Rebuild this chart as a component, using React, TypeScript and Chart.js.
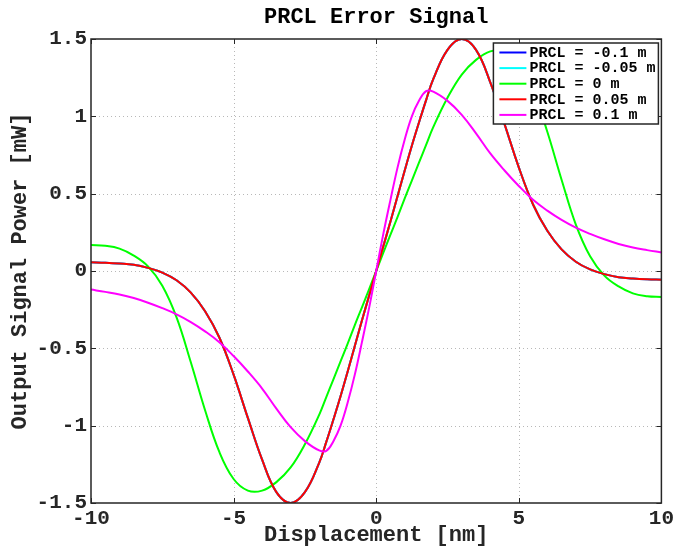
import { useEffect, useRef } from "react";
import { Chart, registerables } from "chart.js";

Chart.register(...registerables);

// ---- data ----
const displacementNm = [
  -10, -9.5, -9, -8.5, -8, -7.5, -7, -6.5, -6, -5.5, -5, -4.5, -4, -3.5, -3, -2.5,
  -2, -1.75, -1.5, -1.25, -1, -0.75, -0.5, -0.25, 0, 0.25, 0.5, 0.75, 1, 1.25, 1.5, 1.75, 2,
  2.5, 3, 3.5, 4, 4.5, 5, 5.5, 6, 6.5, 7, 7.5, 8, 8.5, 9, 9.5, 10,
];

const powerPrclPos005 = [
  0.056, 0.053, 0.048, 0.04, 0.02, -0.01, -0.06, -0.14, -0.26, -0.43, -0.67, -0.95, -1.22, -1.43, -1.5, -1.43,
  -1.24, -1.105, -0.96, -0.81, -0.65, -0.485, -0.32, -0.16, 0, 0.16, 0.32, 0.485, 0.65, 0.81, 0.96, 1.105, 1.24,
  1.43, 1.5, 1.43, 1.22, 0.95, 0.67, 0.43, 0.26, 0.14, 0.06, 0.01, -0.02, -0.04, -0.048, -0.053, -0.056,
];

const powerPrclNeg010 = [
  0.056, 0.053, 0.048, 0.04, 0.02, -0.01, -0.06, -0.14, -0.26, -0.43, -0.67, -0.95, -1.22, -1.43, -1.5, -1.43,
  -1.24, -1.105, -0.96, -0.81, -0.65, -0.485, -0.32, -0.16, 0, 0.16, 0.32, 0.485, 0.65, 0.81, 0.96, 1.105, 1.24,
  1.43, 1.5, 1.43, 1.22, 0.95, 0.67, 0.43, 0.26, 0.14, 0.06, 0.01, -0.02, -0.04, -0.048, -0.053, -0.056,
];

const powerPrclNeg005 = [
  0.056, 0.053, 0.048, 0.04, 0.02, -0.01, -0.06, -0.14, -0.26, -0.43, -0.67, -0.95, -1.22, -1.43, -1.5, -1.43,
  -1.24, -1.105, -0.96, -0.81, -0.65, -0.485, -0.32, -0.16, 0, 0.16, 0.32, 0.485, 0.65, 0.81, 0.96, 1.105, 1.24,
  1.43, 1.5, 1.43, 1.22, 0.95, 0.67, 0.43, 0.26, 0.14, 0.06, 0.01, -0.02, -0.04, -0.048, -0.053, -0.056,
];

const powerPrclZero = [
  0.168, 0.163, 0.145, 0.1, 0.03, -0.095, -0.3, -0.59, -0.9, -1.17, -1.345, -1.42, -1.42, -1.365, -1.27, -1.12,
  -0.93, -0.815, -0.7, -0.585, -0.47, -0.35, -0.235, -0.118, 0, 0.118, 0.235, 0.35, 0.47, 0.585, 0.7, 0.815, 0.93,
  1.12, 1.27, 1.365, 1.42, 1.42, 1.345, 1.17, 0.9, 0.59, 0.3, 0.095, -0.03, -0.1, -0.145, -0.163, -0.168,
];

const powerPrclPos010 = [
  -0.12, -0.135, -0.152, -0.175, -0.205, -0.24, -0.28, -0.33, -0.39, -0.46, -0.55, -0.65, -0.76, -0.89, -1.01, -1.1,
  -1.16, -1.163, -1.1, -1.0, -0.85, -0.67, -0.46, -0.24, 0, 0.24, 0.46, 0.67, 0.85, 1.0, 1.1, 1.163, 1.16,
  1.1, 1.01, 0.89, 0.76, 0.65, 0.55, 0.46, 0.39, 0.33, 0.28, 0.24, 0.205, 0.175, 0.152, 0.135, 0.12,
];

const seriesLabels = ["PRCL = -0.1 m", "PRCL = -0.05 m", "PRCL = 0 m", "PRCL = 0.05 m", "PRCL = 0.1 m"];
const seriesColors = ["#0000ff", "#00ffff", "#00ff00", "#ff0000", "#ff00ff"];
const seriesValues = [powerPrclNeg010, powerPrclNeg005, powerPrclZero, powerPrclPos005, powerPrclPos010];

const xTicks = [-10, -5, 0, 5, 10];
const yTicks = [-1.5, -1, -0.5, 0, 0.5, 1, 1.5];
const yTickLabels = ["-1.5", "-1", "-0.5", "0", "0.5", "1", "1.5"];
const xTickLabels = ["-10", "-5", "0", "5", "10"];

const chartTitle = "PRCL Error Signal";
const xTitle = "Displacement [nm]";
const yTitle = "Output Signal Power [mW]";

const FONT = "'Liberation Mono', 'Courier New', monospace";
const AXIS_COLOR = "#262626";

const framePlugin = {
  id: "matlabFrame",
  beforeDatasetsDraw(chart: any) {
    const { ctx, chartArea: a, scales } = chart;
    const xs = scales.x;
    const ys = scales.y;
    ctx.save();
    ctx.strokeStyle = "#b8b8b8";
    ctx.lineWidth = 1;
    ctx.setLineDash([1, 3]);
    for (const v of xTicks) {
      if (v === xTicks[0] || v === xTicks[xTicks.length - 1]) continue;
      const p = Math.round(xs.getPixelForValue(v)) + 0.5;
      ctx.beginPath();
      ctx.moveTo(p, a.top);
      ctx.lineTo(p, a.bottom);
      ctx.stroke();
    }
    for (const v of yTicks) {
      if (v === yTicks[0] || v === yTicks[yTicks.length - 1]) continue;
      const p = Math.round(ys.getPixelForValue(v)) + 0.5;
      ctx.beginPath();
      ctx.moveTo(a.left, p);
      ctx.lineTo(a.right, p);
      ctx.stroke();
    }
    ctx.restore();
  },
  afterDatasetsDraw(chart: any) {
    const { ctx, chartArea: a, scales } = chart;
    const xs = scales.x;
    const ys = scales.y;
    ctx.save();
    ctx.setLineDash([]);
    ctx.strokeStyle = AXIS_COLOR;
    ctx.lineWidth = 1.5;
    ctx.strokeRect(a.left, a.top, a.right - a.left, a.bottom - a.top);
    const tl = 5;
    ctx.lineWidth = 1;
    for (const v of xTicks) {
      const p = Math.round(xs.getPixelForValue(v)) + 0.5;
      ctx.beginPath();
      ctx.moveTo(p, a.bottom);
      ctx.lineTo(p, a.bottom - tl);
      ctx.moveTo(p, a.top);
      ctx.lineTo(p, a.top + tl);
      ctx.stroke();
    }
    for (const v of yTicks) {
      const p = Math.round(ys.getPixelForValue(v)) + 0.5;
      ctx.beginPath();
      ctx.moveTo(a.left, p);
      ctx.lineTo(a.left + tl, p);
      ctx.moveTo(a.right, p);
      ctx.lineTo(a.right - tl, p);
      ctx.stroke();
    }
    // legend
    const bx = a.right - 168;
    const by = a.top + 4;
    const bw = 165;
    const bh = 81;
    ctx.fillStyle = "#ffffff";
    ctx.fillRect(bx, by, bw, bh);
    ctx.strokeStyle = AXIS_COLOR;
    ctx.lineWidth = 1.5;
    ctx.strokeRect(bx, by, bw, bh);
    ctx.font = `bold 15px ${FONT}`;
    ctx.textBaseline = "middle";
    ctx.textAlign = "left";
    seriesLabels.forEach((lab, i) => {
      const cy = by + 9.5 + i * 15.6;
      ctx.strokeStyle = seriesColors[i];
      ctx.lineWidth = 2;
      ctx.beginPath();
      ctx.moveTo(bx + 6, cy);
      ctx.lineTo(bx + 33, cy);
      ctx.stroke();
      ctx.fillStyle = "#000000";
      ctx.fillText(lab, bx + 36, cy + 0.5);
    });
    // titles
    const cx = (a.left + a.right) / 2;
    ctx.fillStyle = "#000000";
    ctx.textAlign = "center";
    ctx.textBaseline = "middle";
    ctx.font = `bold 22px ${FONT}`;
    ctx.fillText(chartTitle, cx, 17);
    ctx.fillStyle = AXIS_COLOR;
    ctx.fillText(xTitle, cx, 535);
    ctx.save();
    ctx.translate(20, (a.top + a.bottom) / 2);
    ctx.rotate(-Math.PI / 2);
    ctx.fillText(yTitle, 0, 0);
    ctx.restore();
    ctx.restore();
  },
};

export default function App() {
  const canvasRef = useRef<HTMLCanvasElement | null>(null);

  useEffect(() => {
    if (!canvasRef.current) return;
    const datasets = seriesValues.map((vals, i) => ({
      label: seriesLabels[i],
      data: displacementNm.map((x, j) => ({ x, y: vals[j] })),
      borderColor: seriesColors[i],
      backgroundColor: seriesColors[i],
      borderWidth: 2,
      pointRadius: 0,
      fill: false,
      tension: 0.4,
      order: seriesValues.length - i,
    }));
    const chart = new Chart(canvasRef.current, {
      type: "line",
      data: { datasets },
      options: {
        animation: false,
        responsive: false,
        devicePixelRatio: 1,
        layout: { padding: { left: 0, right: 15, top: 39, bottom: 0 } },
        plugins: {
          legend: { display: false },
          title: { display: false },
          tooltip: { enabled: false },
        },
        scales: {
          x: {
            type: "linear",
            min: -10,
            max: 10,
            grid: { display: false, drawTicks: false },
            border: { display: false },
            afterBuildTicks: (s: any) => {
              s.ticks = xTicks.map((v) => ({ value: v }));
            },
            afterFit: (s: any) => {
              s.height = 44;
            },
            ticks: {
              autoSkip: false,
              maxRotation: 0,
              padding: 3,
              color: AXIS_COLOR,
              font: { family: FONT, size: 21, weight: "bold" },
              callback: (v: any) => xTickLabels[xTicks.indexOf(Number(v))] ?? String(v),
            },
          },
          y: {
            type: "linear",
            min: -1.5,
            max: 1.5,
            grid: { display: false, drawTicks: false },
            border: { display: false },
            afterBuildTicks: (s: any) => {
              s.ticks = yTicks.map((v) => ({ value: v }));
            },
            afterFit: (s: any) => {
              s.width = 91;
            },
            ticks: {
              autoSkip: false,
              padding: 4,
              color: AXIS_COLOR,
              font: { family: FONT, size: 21, weight: "bold" },
              callback: (v: any) => yTickLabels[yTicks.indexOf(Number(v))] ?? String(v),
            },
          },
        },
      },
      plugins: [framePlugin],
    });
    return () => chart.destroy();
  }, []);

  return (
    <div style={{ position: "absolute", left: 0, top: 0, width: 677, height: 547, background: "#ffffff" }}>
      <canvas ref={canvasRef} width={677} height={547} style={{ width: 677, height: 547, display: "block" }} />
    </div>
  );
}
